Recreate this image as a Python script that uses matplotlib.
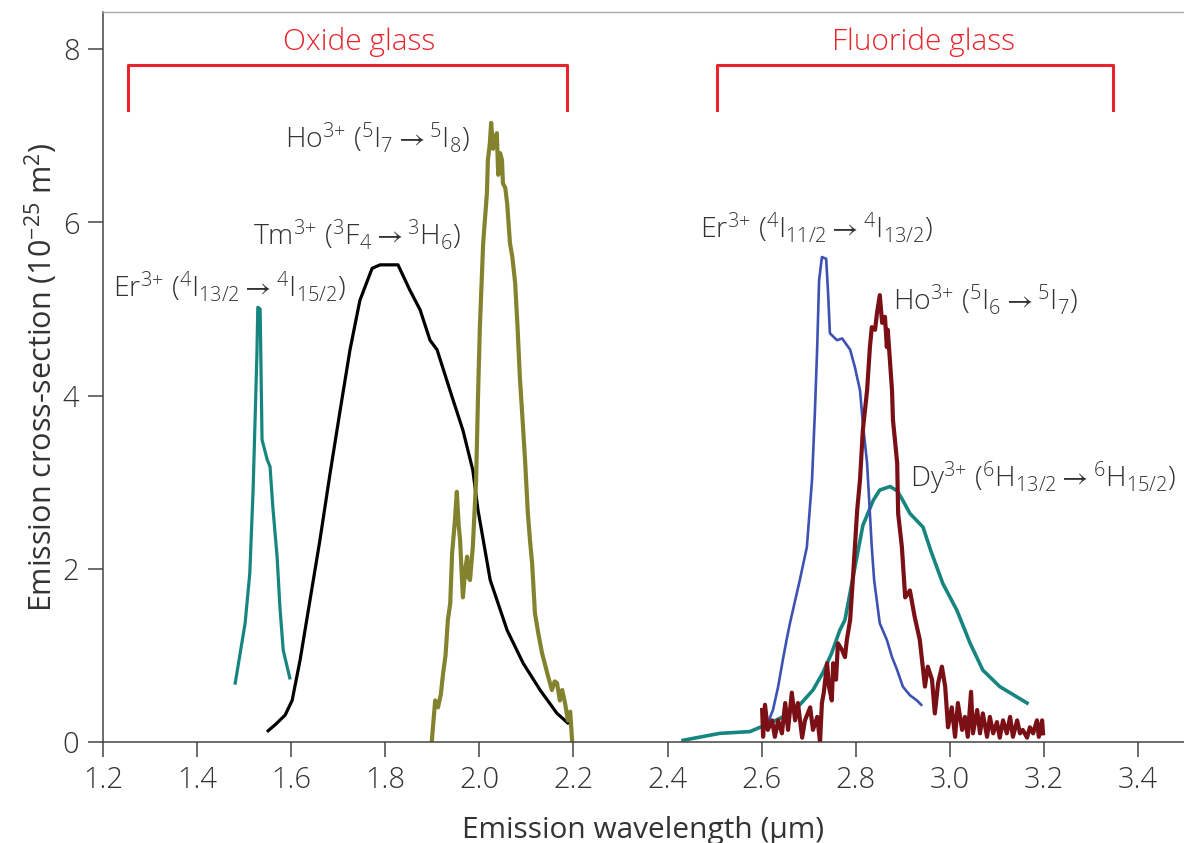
import matplotlib
matplotlib.use("Agg")
import matplotlib.pyplot as plt

# ---- data ----
er15_x = [1.481, 1.502, 1.512, 1.519, 1.523, 1.527, 1.529, 1.534, 1.538, 1.549,
          1.555, 1.561, 1.570, 1.576, 1.583, 1.597]
er15_y = [0.68, 1.37, 1.95, 2.91, 3.68, 4.45, 5.02, 5.0, 3.49, 3.26,
          3.18, 2.71, 2.14, 1.56, 1.06, 0.74]

tm_x = [1.551, 1.566, 1.587, 1.602, 1.619, 1.640, 1.661, 1.682, 1.704, 1.725,
        1.746, 1.772, 1.789, 1.827, 1.852, 1.874, 1.895, 1.910, 1.944, 1.965,
        1.986, 1.997, 2.023, 2.059, 2.093, 2.129, 2.165, 2.188]
tm_y = [0.13, 0.20, 0.31, 0.48, 0.95, 1.64, 2.33, 3.08, 3.83, 4.53,
        5.10, 5.47, 5.51, 5.51, 5.22, 4.99, 4.64, 4.53, 3.95, 3.60,
        3.14, 2.68, 1.87, 1.29, 0.91, 0.60, 0.33, 0.22]

ho20_x = [1.899, 1.906, 1.912, 1.918, 1.923, 1.928, 1.933, 1.938, 1.942, 1.948,
          1.952, 1.956, 1.959, 1.963, 1.965, 1.970, 1.974, 1.977, 1.980, 1.986,
          1.993, 1.997, 2.001, 2.008, 2.016, 2.018, 2.022, 2.025, 2.029, 2.033,
          2.037, 2.040, 2.044, 2.048, 2.050, 2.055, 2.059, 2.065, 2.070, 2.076,
          2.081, 2.086, 2.092, 2.097, 2.103, 2.108, 2.112, 2.118, 2.125, 2.133,
          2.144, 2.154, 2.160, 2.165, 2.171, 2.176, 2.182, 2.188, 2.193, 2.197]
ho20_y = [0.02, 0.48, 0.40, 0.55, 0.80, 1.00, 1.41, 1.60, 2.18, 2.56,
          2.89, 2.50, 2.33, 1.87, 1.67, 2.00, 2.14, 1.90, 1.87, 2.25,
          3.03, 3.98, 4.79, 5.76, 6.34, 6.72, 6.90, 7.15, 6.85, 6.95,
          7.03, 6.55, 6.80, 6.72, 6.45, 6.40, 6.22, 5.76, 5.60, 5.30,
          4.80, 4.21, 3.70, 3.26, 2.64, 2.30, 2.07, 1.49, 1.26, 1.03,
          0.80, 0.60, 0.70, 0.68, 0.48, 0.60, 0.45, 0.25, 0.35, 0.02]

er27_x = [2.613, 2.624, 2.635, 2.645, 2.654, 2.660, 2.681, 2.696, 2.707, 2.713,
          2.718, 2.722, 2.728, 2.737, 2.741, 2.745, 2.760, 2.771, 2.788, 2.798,
          2.809, 2.815, 2.824, 2.830, 2.834, 2.839, 2.851, 2.866, 2.877, 2.888,
          2.900, 2.915, 2.930, 2.939]
er27_y = [0.22, 0.37, 0.64, 0.95, 1.21, 1.37, 1.87, 2.25, 3.03, 3.80,
          4.56, 5.33, 5.60, 5.58, 5.20, 4.72, 4.64, 4.66, 4.53, 4.33,
          4.06, 3.68, 3.22, 2.64, 2.25, 1.87, 1.37, 1.18, 0.98, 0.83,
          0.64, 0.54, 0.48, 0.43]

ho285_x = [2.601, 2.603, 2.607, 2.613, 2.622, 2.628, 2.635, 2.643, 2.650, 2.656,
           2.664, 2.671, 2.677, 2.686, 2.692, 2.703, 2.709, 2.718, 2.724, 2.728,
           2.732, 2.739, 2.743, 2.749, 2.752, 2.758, 2.762, 2.771, 2.777, 2.781,
           2.788, 2.794, 2.803, 2.809, 2.815, 2.824, 2.830, 2.834, 2.841, 2.845,
           2.851, 2.856, 2.862, 2.866, 2.868, 2.877, 2.879, 2.888, 2.890, 2.898,
           2.905, 2.915, 2.925, 2.936, 2.947, 2.953, 2.962, 2.968, 2.975, 2.983,
           2.990, 2.996, 3.004, 3.011, 3.017, 3.026, 3.032, 3.038, 3.045, 3.049,
           3.058, 3.064, 3.070, 3.079, 3.085, 3.092, 3.100, 3.106, 3.113, 3.121,
           3.128, 3.134, 3.143, 3.149, 3.155, 3.164, 3.170, 3.177, 3.185, 3.189,
           3.196, 3.198]
ho285_y = [0.37, 0.06, 0.43, 0.14, 0.25, 0.06, 0.25, 0.10, 0.45, 0.14,
           0.57, 0.25, 0.45, 0.05, 0.25, 0.40, 0.14, 0.29, 0.0, 0.45,
           0.57, 0.91, 0.64, 0.48, 0.91, 0.72, 1.14, 1.06, 0.98, 1.18,
           1.41, 1.90, 2.68, 3.03, 3.60, 4.06, 4.56, 4.79, 4.76, 4.95,
           5.16, 4.84, 4.91, 4.56, 4.76, 4.06, 3.72, 3.22, 2.64, 2.25,
           1.67, 1.75, 1.45, 1.18, 0.64, 0.87, 0.72, 0.33, 0.68, 0.87,
           0.64, 0.17, 0.40, 0.06, 0.45, 0.14, 0.29, 0.06, 0.58, 0.10,
           0.37, 0.10, 0.33, 0.06, 0.29, 0.10, 0.23, 0.05, 0.25, 0.10,
           0.29, 0.06, 0.25, 0.10, 0.14, 0.05, 0.17, 0.10, 0.25, 0.06,
           0.25, 0.10]

dy_x = [2.433, 2.511, 2.575, 2.618, 2.645, 2.681, 2.709, 2.730, 2.749, 2.766,
        2.777, 2.794, 2.815, 2.837, 2.851, 2.873, 2.888, 2.900, 2.915, 2.943,
        2.960, 2.985, 3.015, 3.043, 3.070, 3.106, 3.164]
dy_y = [0.02, 0.10, 0.12, 0.22, 0.29, 0.43, 0.60, 0.80, 1.03, 1.29,
        1.41, 1.90, 2.50, 2.79, 2.91, 2.95, 2.90, 2.79, 2.64, 2.48,
        2.20, 1.83, 1.52, 1.14, 0.83, 0.64, 0.45]

x_ticks = [1.2, 1.4, 1.6, 1.8, 2.0, 2.2, 2.4, 2.6, 2.8, 3.0, 3.2, 3.4]
y_ticks = [0, 2, 4, 6, 8]

# glass groups: bracket span and label centre
glass_names = ["Oxide glass", "Fluoride glass"]
glass_left = [1.253, 2.505]
glass_right = [2.186, 3.347]
glass_label_x = [1.744, 2.943]

# ---- style ----
plt.rcParams["font.family"] = ["Open Sans", "DejaVu Sans"]
plt.rcParams["font.weight"] = "light"
plt.rcParams["mathtext.fontset"] = "custom"
plt.rcParams["mathtext.rm"] = "Open Sans:light"
plt.rcParams["mathtext.it"] = "Open Sans:light"
plt.rcParams["mathtext.default"] = "regular"

txt = "#333333"
red = "#e8232b"

fig = plt.figure(figsize=(11.84, 8.43), dpi=100)
ax = fig.add_axes([0.087, 0.1198, 0.913, 0.866])

ax.plot(er15_x, er15_y, color="#17857f", lw=2.3)
ax.plot(tm_x, tm_y, color="black", lw=2.3)
ax.plot(ho20_x, ho20_y, color="#83832f", lw=3.0)
ax.plot(dy_x, dy_y, color="#17857f", lw=2.6)
ax.plot(er27_x, er27_y, color="#3d52b3", lw=1.9)
ax.plot(ho285_x, ho285_y, color="#7a1015", lw=3.0)

ax.set_xlim(1.2, 3.4976)
ax.set_ylim(0, 8.43)
ax.set_xticks(x_ticks)
ax.set_xticklabels([f"{v:.1f}" for v in x_ticks])
ax.set_yticks(y_ticks)

for side in ["left", "bottom"]:
    ax.spines[side].set_color("#444444")
    ax.spines[side].set_linewidth(1.1)
ax.spines["right"].set_visible(False)
ax.spines["top"].set_color("#aaaaaa")
ax.spines["top"].set_linewidth(1.0)
ax.tick_params(direction="out", length=11, width=1.1, color="#444444",
               labelsize=21, labelcolor=txt, pad=6)

ax.set_xlabel("Emission wavelength (μm)", fontsize=21.5, color=txt, labelpad=15)
ax.set_ylabel(r"Emission cross-section (10$^{-25}$ m$^{2}$)", fontsize=22,
              color=txt, labelpad=2)

for name, x0, x1, lx in zip(glass_names, glass_left, glass_right, glass_label_x):
    ax.plot([x0, x0, x1, x1], [7.30, 7.82, 7.82, 7.30], color=red, lw=2.2,
            clip_on=False)
    ax.text(lx, 7.99, name, color=red, fontsize=21.5, ha="center",
            va="baseline")

labels = [
    (1.587, 6.87, r"Ho$^{3{+}}$ ($^{5}$I$_{7}$$\rightarrow$$^{5}$I$_{8}$)"),
    (1.519, 5.74, r"Tm$^{3{+}}$ ($^{3}$F$_{4}$$\rightarrow$$^{3}$H$_{6}$)"),
    (1.221, 5.14, r"Er$^{3{+}}$ ($^{4}$I$_{13/2}$$\rightarrow$$^{4}$I$_{15/2}$)"),
    (2.469, 5.82, r"Er$^{3{+}}$ ($^{4}$I$_{11/2}$$\rightarrow$$^{4}$I$_{13/2}$)"),
    (2.879, 4.99, r"Ho$^{3{+}}$ ($^{5}$I$_{6}$$\rightarrow$$^{5}$I$_{7}$)"),
    (2.915, 2.94, r"Dy$^{3{+}}$ ($^{6}$H$_{13/2}$$\rightarrow$$^{6}$H$_{15/2}$)"),
]
for lx, ly, s in labels:
    ax.text(lx, ly, s, fontsize=20.5, color=txt, ha="left", va="baseline")

fig.savefig("out.png", dpi=100)
